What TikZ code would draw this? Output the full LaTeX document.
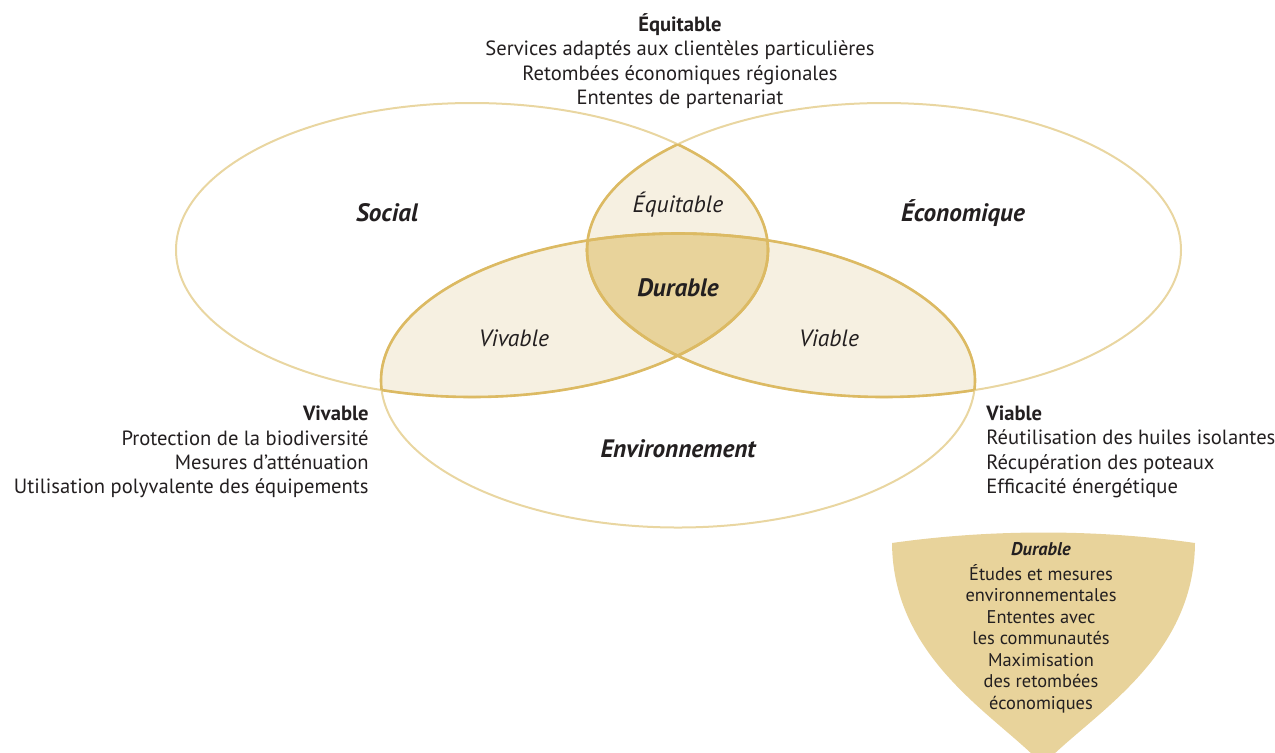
\documentclass[tikz,border=0pt]{standalone}
\usepackage{fontspec}
\setmainfont{PT Sans}

\definecolor{goldLight}{HTML}{E9D6A1}
\definecolor{goldDark}{HTML}{DCBA63}
\definecolor{pairFill}{HTML}{F6F0E1}
\definecolor{coreFill}{HTML}{E8D39B}
\definecolor{ink}{HTML}{231F20}

% les trois ensembles (coordonnees en pixels)
\def\ellSocial{(472,250) ellipse [x radius=296, y radius=147]}
\def\ellEcono{(884,250) ellipse [x radius=297, y radius=147]}
\def\ellEnviro{(678,380.5) ellipse [x radius=297, y radius=147]}

\begin{document}
\begin{tikzpicture}[x=0.5pt,y=-0.5pt,
    lightline/.style={draw=goldLight, line width=1pt},
    darkline/.style={draw=goldDark, line width=1.3pt},
    zone/.style={text=ink, font=\fontsize{11.8}{14}\selectfont\itshape},
    zonebold/.style={zone, font=\fontsize{12.6}{15}\selectfont\bfseries\itshape},
    listing/.style={text=ink, font=\fontsize{10.3}{12.2}\selectfont, inner sep=0pt}]
  \useasboundingbox (0,0) rectangle (1275,752);

  % intersections deux a deux
  \begin{scope}
    \clip \ellSocial;
    \fill[pairFill] \ellEcono;
    \fill[pairFill] \ellEnviro;
  \end{scope}
  \begin{scope}
    \clip \ellEcono;
    \fill[pairFill] \ellEnviro;
  \end{scope}
  % le coeur : durable
  \begin{scope}
    \clip \ellSocial;
    \clip \ellEcono;
    \fill[coreFill] \ellEnviro;
  \end{scope}

  % contours
  \draw[lightline] \ellSocial;
  \draw[lightline] \ellEcono;
  \draw[lightline] \ellEnviro;
  \begin{scope}
    \clip \ellSocial;
    \draw[darkline] \ellEcono;
    \draw[darkline] \ellEnviro;
  \end{scope}
  \begin{scope}
    \clip \ellEcono;
    \draw[darkline] \ellSocial;
    \draw[darkline] \ellEnviro;
  \end{scope}
  \begin{scope}
    \clip \ellEnviro;
    \draw[darkline] \ellSocial;
    \draw[darkline] \ellEcono;
  \end{scope}

  % etiquettes des zones
  \node[zonebold] (social) at (387,213) {Social};
  \node[zonebold] (econo) at (963,213) {Économique};
  \node[zonebold] (enviro) at (678,449) {Environnement};
  \node[zone] (equit) at (678,205) {Équitable};
  \node[zonebold] (durab) at (678,288) {Durable};
  \node[zone] (vivab) at (514,338) {Vivable};
  \node[zone] (viab) at (829,338) {Viable};

  % listes
  \node[listing, align=center] (equitList) at (680,61) {\textbf{Équitable}\\
    Services adaptés aux clientèles particulières\\
    Retombées économiques régionales\\
    Ententes de partenariat};
  \node[listing, align=right, anchor=east] (vivabList) at (369,452) {\textbf{Vivable}\\
    Protection de la biodiversité\\
    Mesures d’atténuation\\
    Utilisation polyvalente des équipements};
  \node[listing, align=left, anchor=west] (viabList) at (986,452) {\textbf{Viable}\\
    Réutilisation des huiles isolantes\\
    Récupération des poteaux\\
    Efficacité énergétique};

  % ecusson durable
  \fill[coreFill] (892,543) .. controls (990,529) and (1097,529) .. (1195,543)
    .. controls (1194,660) and (1090,715) .. (1043,765)
    .. controls (996,715) and (893,660) .. (892,543) -- cycle;
  \node[text=ink, align=center, inner sep=0pt,
    font=\fontsize{9.2}{10.75}\selectfont] (durabList) at (1041,628)
    {\textbf{\textit{Durable}}\\[1.5pt]
    Études et mesures\\
    environnementales\\
    Ententes avec\\
    les communautés\\
    Maximisation\\
    des retombées\\
    économiques};
\end{tikzpicture}
\end{document}
